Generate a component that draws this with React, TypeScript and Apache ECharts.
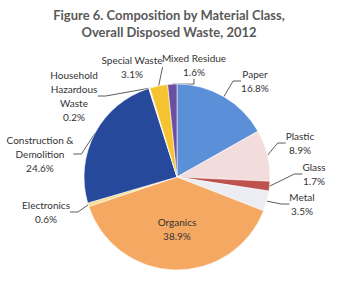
import React, { useEffect, useRef } from "react";
import * as echarts from "echarts";

const categories = [
  "Paper",
  "Plastic",
  "Glass",
  "Metal",
  "Organics",
  "Electronics",
  "Construction &\nDemolition",
  "Household\nHazardous\nWaste",
  "Special Waste",
  "Mixed Residue",
];
const values = [16.8, 8.9, 1.7, 3.5, 38.9, 0.6, 24.6, 0.2, 3.1, 1.6];
const colors = [
  "#5b8fd8",
  "#f3dcdc",
  "#bd524e",
  "#ececf3",
  "#f5a862",
  "#f7dc8f",
  "#26499b",
  "#f4f4f4",
  "#f6c431",
  "#6b4fa0",
];
// label anchor (center x, top y) for each slice's label
const labelPos: [number, number][] = [
  [255, 67],
  [300, 129],
  [314, 160],
  [302, 190],
  [177, 215],
  [46, 198],
  [40, 133],
  [74, 68],
  [132, 53],
  [194, 51],
];

export default function App() {
  const ref = useRef<HTMLDivElement>(null);
  useEffect(() => {
    if (!ref.current) return;
    const chart = echarts.init(ref.current, null, { renderer: "svg" });
    const data = categories.map((c, i) => ({
      name: c,
      value: values[i],
      itemStyle: { color: colors[i] },
      label: i === 4 ? { position: "inside" } : undefined,
      labelLine: i === 4 ? { show: false } : undefined,
    }));
    chart.setOption({
      animation: false,
      title: {
        text: "Figure 6. Composition by Material Class,\nOverall Disposed Waste, 2012",
        left: "center",
        top: 1,
        textStyle: {
          fontFamily: "Lato",
          fontWeight: "bold",
          fontSize: 13,
          color: "#595959",
          lineHeight: 17,
          align: "center",
        },
      },
      series: [
        {
          type: "pie",
          center: [177, 177],
          radius: [0, 93],
          startAngle: 90,
          clockwise: true,
          data,
          itemStyle: { borderColor: "rgba(255,255,255,0.7)", borderWidth: 0.8 },
          label: {
            show: true,
            formatter: (p: any) => p.name + "\n" + p.value.toFixed(1) + "%",
            fontFamily: "Lato",
            fontSize: 10,
            color: "#333",
            lineHeight: 14,
            align: "center",
            overflow: "none",
          },
          labelLine: {
            show: true,
            length: 8,
            length2: 8,
            lineStyle: { color: "#333", width: 0.8 },
          },
          labelLayout: (p: any) => {
            const pos = labelPos[p.dataIndex];
            return {
              x: pos[0],
              y: pos[1],
              align: "center",
              verticalAlign: "top",
            };
          },
        },
      ],
    });
    return () => chart.dispose();
  }, []);
  return (
    <div
      ref={ref}
      style={{ position: "fixed", left: 0, top: 0, width: 338, height: 281, background: "#fff" }}
    />
  );
}
